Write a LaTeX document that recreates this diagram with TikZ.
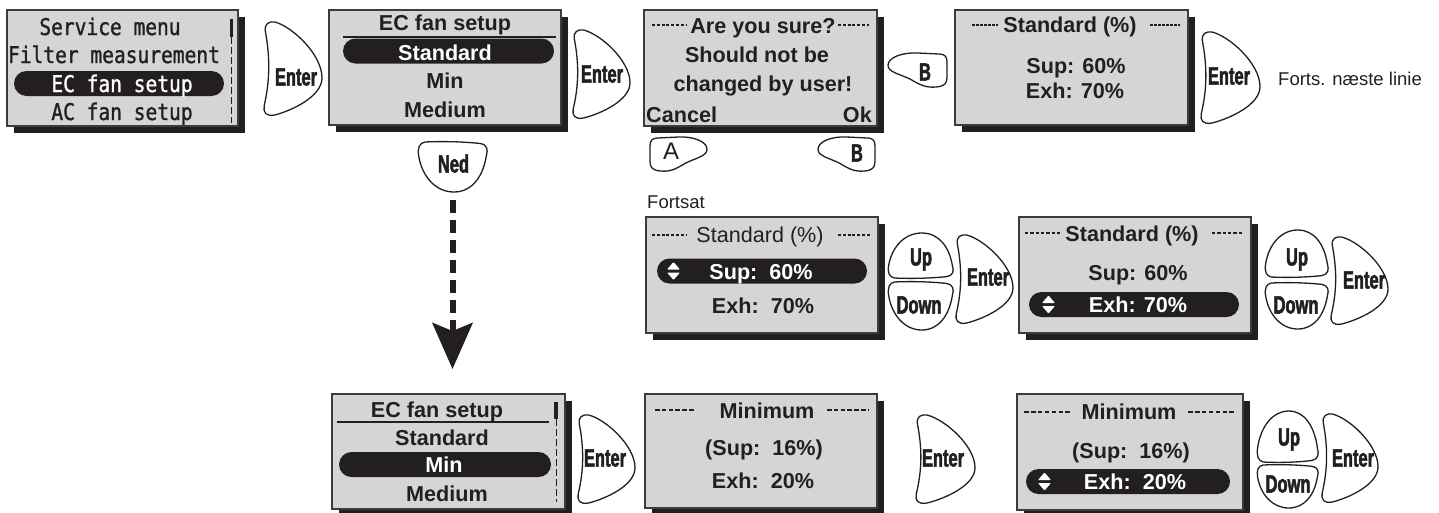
\documentclass[tikz,border=0pt]{standalone}
\usepackage{fontspec}
\setmainfont{Liberation Sans}
\newfontfamily\lcdfont{DejaVu Sans Mono}[FakeStretch=0.85, FakeBold=1.2]
\newfontfamily\keyfont{Liberation Sans}[FakeStretch=0.66, FakeBold=2]
\usetikzlibrary{arrows.meta,shapes.misc}
\definecolor{lcd}{HTML}{D4D5D7}
\definecolor{ink}{HTML}{231F20}
\definecolor{frame}{HTML}{3C3C3C}
\tikzset{
  screenbox/.style={rectangle, fill=lcd, draw=frame, line width=1.2pt, inner sep=0pt},
  pill/.style={rounded rectangle, fill=ink, inner sep=0pt, minimum height=25pt},
  btnline/.style={draw=ink, fill=white, line width=1.3pt, line join=round},
  btnbox/.style={rectangle, inner sep=0pt, draw=none},
  keytxt/.style={font=\keyfont\bfseries\fontsize{25}{25}\selectfont, text=ink, inner sep=0pt, anchor=base},
  scrtxt/.style={font=\bfseries\fontsize{21.6}{21.6}\selectfont, text=ink, inner sep=0pt, anchor=base},
  scrreg/.style={font=\fontsize{21.6}{21.6}\selectfont, text=ink, inner sep=0pt, anchor=base},
  lcdtxt/.style={font=\lcdfont\fontsize{23}{23}\selectfont, text=ink, inner sep=0pt, anchor=base},
  note/.style={font=\fontsize{18.5}{18.5}\selectfont, text=ink, inner sep=0pt, anchor=base west},
  dashes/.style={draw=ink, line width=1.1pt, dash pattern=on 3pt off 1.8pt},
  scroll/.style={draw=ink, line width=1pt, dash pattern=on 7pt off 3pt},
}
\newcommand\lcdscreen[5]{%
  \fill[ink] ({#2+7},{#3+7}) rectangle ({#4+7},{#5+7});
  \node[screenbox, minimum width=#4-#2, minimum height=#5-#3] (#1) at ({(#2+#4)/2},{(#3+#5)/2}) {};
}
\newcommand\keybtn[9]{%
  \draw[btnline, shift={(#3,#4)}, xscale=#5-#3, yscale=#6-#4] #2;
  \node[btnbox, minimum width=#5-#3, minimum height=#6-#4] (#1) at ({(#3+#5)/2},{(#4+#6)/2}) {};
  \node[keytxt] (#1t) at (#7,{#8+8.5}) {#9};
}
\newcommand\enterkey[7]{\keybtn{#1}{(0.2,0) .. controls (0.5,0.05) and (1,0.35) .. (1,0.6) .. controls (1,0.8) and (0.5,0.95) .. (0.2,1) .. controls (0.05,1.02) and (0,0.97) .. (0.02,0.9) .. controls (0.12,0.62) and (0.12,0.38) .. (0.04,0.1) .. controls (0.02,0.02) and (0.1,-0.01) .. (0.2,0) -- cycle}{#2}{#3}{#4}{#5}{#6}{#7}{Enter}}
\newcommand\upkey[8]{\keybtn{#1}{(0.1,1) .. controls (0.4,1.02) and (0.7,1) .. (0.9,0.97) .. controls (1,0.95) and (1.02,0.85) .. (0.99,0.72) .. controls (0.94,0.3) and (0.78,0) .. (0.52,0) .. controls (0.26,0) and (0.06,0.3) .. (0.01,0.72) .. controls (-0.01,0.88) and (0.02,0.98) .. (0.1,1) -- cycle}{#2}{#3}{#4}{#5}{#6}{#7}{#8}}
\newcommand\downkey[8]{\keybtn{#1}{(0.1,0) .. controls (0.4,-0.02) and (0.7,0) .. (0.9,0.03) .. controls (1,0.05) and (1.02,0.15) .. (0.99,0.28) .. controls (0.94,0.7) and (0.78,1) .. (0.52,1) .. controls (0.26,1) and (0.06,0.7) .. (0.01,0.28) .. controls (-0.01,0.12) and (0.02,0.02) .. (0.1,0) -- cycle}{#2}{#3}{#4}{#5}{#6}{#7}{#8}}
\newcommand\akey[8]{\keybtn{#1}{(0.12,0.03) -- (0.5,0) .. controls (0.75,-0.02) and (1,0.12) .. (1,0.35) .. controls (1,0.55) and (0.8,0.6) .. (0.62,0.75) .. controls (0.45,0.92) and (0.35,1) .. (0.18,0.97) .. controls (0.05,0.95) and (0,0.88) .. (0,0.7) -- (0,0.25) .. controls (0,0.1) and (0.04,0.04) .. (0.12,0.03) -- cycle}{#2}{#3}{#4}{#5}{#6}{#7}{#8}}
\newcommand\bkey[8]{\keybtn{#1}{(0.88,0.03) -- (0.5,0) .. controls (0.25,-0.02) and (0,0.12) .. (0,0.35) .. controls (0,0.55) and (0.2,0.6) .. (0.38,0.75) .. controls (0.55,0.92) and (0.65,1) .. (0.82,0.97) .. controls (0.95,0.95) and (1,0.88) .. (1,0.7) -- (1,0.25) .. controls (1,0.1) and (0.96,0.04) .. (0.88,0.03) -- cycle}{#2}{#3}{#4}{#5}{#6}{#7}{#8}}
\newcommand\updown[2]{\fill[white, rounded corners=0.8pt] ({#1-6.5},{#2-1.5}) -- ({#1+6.5},{#2-1.5}) -- (#1,{#2-9}) -- cycle ({#1-6.5},{#2+1.5}) -- ({#1+6.5},{#2+1.5}) -- (#1,{#2+9}) -- cycle;}
\begin{document}
\begin{tikzpicture}[x=1pt,y=-1pt]
\fill[white] (0,0) rectangle (1439,512);
\useasboundingbox (0,0) rectangle (1439,512);

% ---- Screen 1
\lcdscreen{s1}{7}{10}{238}{126}
\node[pill, minimum width=210pt] (s1pill) at (119,83.5) {};
\fill[ink] (229.5,19) rectangle (233,37);
\draw[scroll] (231.2,37) -- (231.2,123);
\node[lcdtxt] (s1a) at (110,35) {Service menu};
\node[lcdtxt] (s1b) at (114,63) {Filter measurement};
\node[lcdtxt, text=white] (s1c) at (122,92) {EC fan setup};
\node[lcdtxt] (s1d) at (122,120) {AC fan setup};
\enterkey{e1}{263}{22}{322}{115}{296}{77}

% ---- Screen 2
\lcdscreen{s2}{329}{10}{561}{125}
\node[scrtxt] (s2a) at (445,30) {EC fan setup};
\draw[ink, line width=1.2pt] (343,37) -- (556,37);
\node[pill, minimum width=211pt] (s2pill) at (448.5,51) {};
\node[scrtxt, text=white] (s2b) at (445,60) {Standard};
\node[scrtxt] (s2c) at (445,88) {Min};
\node[scrtxt] (s2d) at (445,117) {Medium};
\enterkey{e2}{572}{30}{630}{118}{602}{74}
\downkey{ned}{418}{142}{487}{192}{453.5}{164}{Ned}
\coordinate (nedtip) at (452.5,369);
\draw[ink, line width=6pt, dash pattern=on 13pt off 7pt, shorten <=8pt, -{Stealth[length=46pt, width=40pt, inset=8pt]}] (ned.south) -- (nedtip);

% ---- Screen 3
\lcdscreen{s3}{644}{10}{877}{126}
\draw[dashes] (652,25) -- (687,25);
\draw[dashes] (838,25) -- (869,25);
\node[scrtxt] (s3a) at (763,33) {Are you sure?};
\node[scrtxt] (s3b) at (757,62) {Should not be};
\node[scrtxt] (s3c) at (763,91) {changed by user!};
\node[scrtxt, anchor=base west] (s3d) at (646,122) {Cancel};
\node[scrtxt, anchor=base east] (s3e) at (872,122) {Ok};
\akey{ka}{650}{137}{707}{172}{671}{151}{\normalfont\fontsize{24}{24}\selectfont A}
\bkey{kb2}{818}{137}{875}{172}{857}{153}{B}
\bkey{kb1}{888}{53}{947}{88}{925}{72}{B}

% ---- Screen 4
\lcdscreen{s4}{955}{10}{1188}{125}
\draw[dashes, dash pattern=on 2.6pt off 1.4pt] (972,25) -- (998,25);
\draw[dashes, dash pattern=on 2.6pt off 1.4pt] (1150,25) -- (1180,25);
\node[scrtxt] (s4a) at (1070,32) {Standard (\%)};
\node[scrtxt] (s4b) at (1076,73) {Sup: 60\%};
\node[scrtxt] (s4c) at (1075,98) {Exh: 70\%};
\enterkey{e4}{1200}{32}{1260}{123}{1229}{76}
\node[note] (n1) at (1278,85) {Forts. næste linie};

% ---- Row 2
\node[note] (n2) at (647,208) {Fortsat};
\lcdscreen{s5}{646}{217}{878}{333}
\draw[dashes] (652,235) -- (687,235);
\draw[dashes] (838,235) -- (870,235);
\node[scrreg] (s5a) at (760,242) {Standard (\%)};
\node[pill, minimum width=210pt] (s5pill) at (762,271) {};
\updown{673.5}{271}
\node[scrtxt, text=white] (s5b) at (761,279) {Sup:\ \ 60\%};
\node[scrtxt] (s5c) at (763,313) {Exh:\ \ 70\%};
\upkey{u5}{888}{233}{953}{278}{921}{257}{Up}
\downkey{d5}{888}{282}{953}{330}{919}{305}{Down}
\enterkey{e5}{955}{235}{1013}{323}{988}{277}

\lcdscreen{s6}{1019}{217}{1251}{333}
\draw[dashes, dash pattern=on 3.3pt off 2pt] (1025,233) -- (1062,233);
\draw[dashes, dash pattern=on 3.3pt off 2pt] (1212,233) -- (1243,233);
\node[scrtxt] (s6a) at (1132,241) {Standard (\%)};
\node[scrtxt] (s6b) at (1138,280) {Sup: 60\%};
\node[pill, minimum width=210pt] (s6pill) at (1134,304.5) {};
\updown{1048.5}{304.5}
\node[scrtxt, text=white] (s6c) at (1138,312) {Exh: 70\%};
\upkey{u6}{1265}{230}{1328}{277}{1297}{257}{Up}
\downkey{d6}{1265}{283}{1328}{329}{1296}{305}{Down}
\enterkey{e6}{1330}{237}{1388}{324}{1364}{280}

% ---- Row 3
\lcdscreen{s7}{332}{394}{565}{509}
\node[scrtxt] (s7a) at (437,417) {EC fan setup};
\draw[ink, line width=1.2pt] (337,422) -- (549,422);
\node[scrtxt] (s7b) at (442,445) {Standard};
\node[pill, minimum width=212pt] (s7pill) at (445,464.5) {};
\node[scrtxt, text=white] (s7c) at (444,472) {Min};
\node[scrtxt] (s7d) at (447,501) {Medium};
\fill[ink] (554.3,402) rectangle (557.8,419);
\draw[scroll] (556,419) -- (556,502);
\enterkey{e7}{577}{415}{635}{503}{605}{458}

\lcdscreen{s8}{645}{394}{877}{508}
\draw[dashes, dash pattern=on 4.5pt off 2.3pt] (655,410) -- (695,410);
\draw[dashes, dash pattern=on 4.5pt off 2.3pt] (827,410) -- (868,410);
\node[scrtxt] (s8a) at (767,418) {Minimum};
\node[scrtxt] (s8b) at (764,455) {(Sup:\ \ 16\%)};
\node[scrtxt] (s8c) at (763,488) {Exh:\ \ 20\%};
\enterkey{e8}{915}{415}{975}{503}{943}{458}

\lcdscreen{s9}{1017}{394}{1243}{510}
\draw[dashes, dash pattern=on 4.6pt off 2.3pt] (1024,412) -- (1072,412);
\draw[dashes, dash pattern=on 4.6pt off 2.3pt] (1188,412) -- (1235,412);
\node[scrtxt] (s9a) at (1129,419) {Minimum};
\node[scrtxt] (s9b) at (1131,458) {(Sup:\ \ 16\%)};
\node[pill, minimum width=204pt] (s9pill) at (1128,481.5) {};
\updown{1044.5}{481.5}
\node[scrtxt, text=white] (s9c) at (1135,489) {Exh:\ \ 20\%};
\upkey{u9}{1257}{411}{1318}{462}{1289}{437}{Up}
\downkey{d9}{1257}{465}{1318}{508}{1288}{484}{Down}
\enterkey{e9}{1321}{414}{1378}{502}{1353}{458}
\end{tikzpicture}
\end{document}
